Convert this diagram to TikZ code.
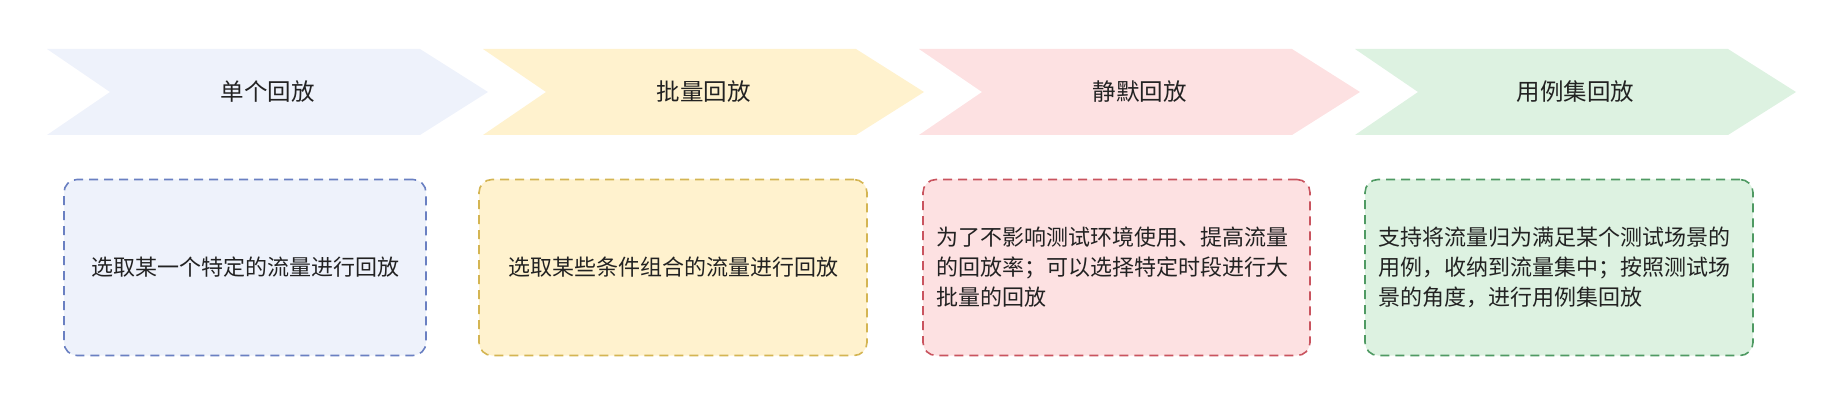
\documentclass[tikz,border=0pt]{standalone}
\usepackage{fontspec}
\setmainfont{Noto Sans CJK SC}
\definecolor{bluefill}{HTML}{EEF2FB}
\definecolor{blueline}{HTML}{6A80C2}
\definecolor{yellowfill}{HTML}{FFF2CE}
\definecolor{yellowline}{HTML}{D4B553}
\definecolor{redfill}{HTML}{FDE1E2}
\definecolor{redline}{HTML}{C9545F}
\definecolor{greenfill}{HTML}{DDF2E1}
\definecolor{greenline}{HTML}{4F9A63}
\definecolor{inktext}{HTML}{222222}
\tikzset{
  chevlabel/.style={text=inktext, font=\fontsize{23.5pt}{28pt}\selectfont},
  notebox/.style={rounded corners=13pt, line width=1.6pt,
    dash pattern=on 9pt off 6pt, minimum height=176pt,
    text=inktext, font=\fontsize{22pt}{30pt}\selectfont},
}
\begin{document}
\begin{tikzpicture}[x=1pt,y=-1pt]
  \useasboundingbox (0,0) rectangle (1846,406);
  % chevrons
  \fill[bluefill] (47,49) -- (420,49) -- (488,92) -- (420,135) -- (47,135) -- (110,92) -- cycle;
  \node[chevlabel] (single) at (267.5,92) {单个回放};
  \fill[yellowfill] (483,49) -- (856,49) -- (924,92) -- (856,135) -- (483,135) -- (546,92) -- cycle;
  \node[chevlabel] (batch) at (703.5,92) {批量回放};
  \fill[redfill] (919,49) -- (1292,49) -- (1360,92) -- (1292,135) -- (919,135) -- (982,92) -- cycle;
  \node[chevlabel] (silent) at (1139.5,92) {静默回放};
  \fill[greenfill] (1355,49) -- (1728,49) -- (1796,92) -- (1728,135) -- (1355,135) -- (1418,92) -- cycle;
  \node[chevlabel] (caseset) at (1575.5,92) {用例集回放};
  % descriptions
  \node[notebox, draw=blueline, fill=bluefill, minimum width=362pt] (singletext) at (245,267.5)
   {选取某一个特定的流量进行回放};
  \node[notebox, draw=yellowline, fill=yellowfill, minimum width=388pt] (batchtext) at (673,267.5)
   {选取某些条件组合的流量进行回放};
  \node[notebox, draw=redline, fill=redfill, minimum width=387pt, text width=360pt, align=left]
   (silenttext) at (1116.5,267.5)
   {为了不影响测试环境使用、提高流量\\的回放率；可以选择特定时段进行大\\批量的回放};
  \node[notebox, draw=greenline, fill=greenfill, minimum width=388pt, text width=362pt, align=left]
   (casesettext) at (1559,267.5)
   {支持将流量归为满足某个测试场景的\\用例，收纳到流量集中；按照测试场\\景的角度，进行用例集回放};
\end{tikzpicture}
\end{document}
